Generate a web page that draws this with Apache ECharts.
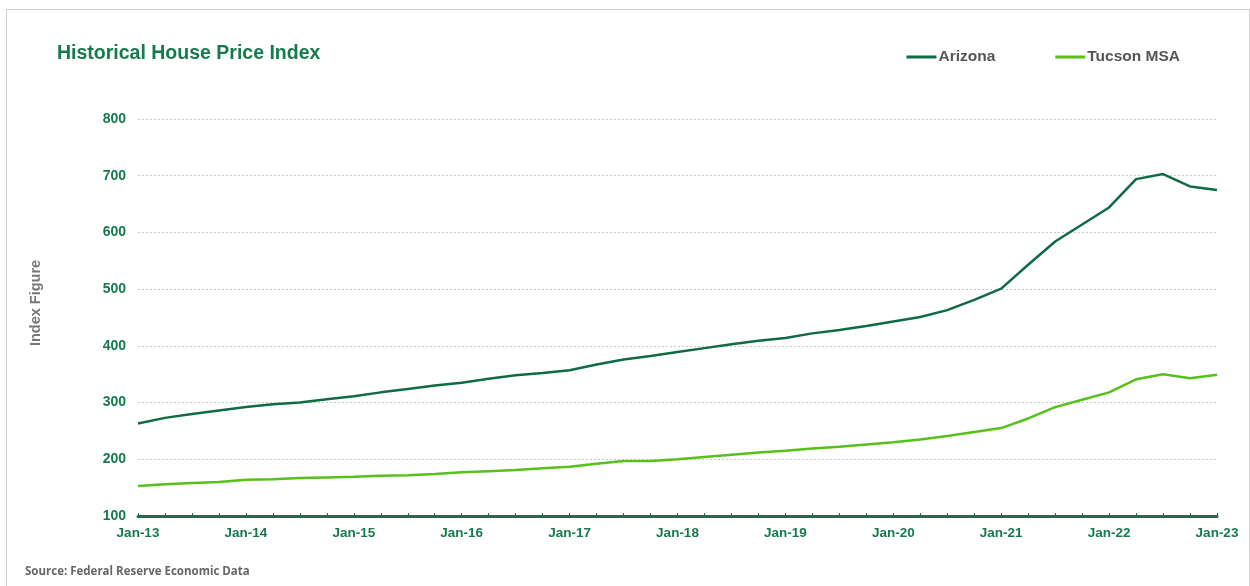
<!DOCTYPE html>
<html>
<head>
<meta charset="utf-8">
<script src="https://cdn.jsdelivr.net/npm/echarts@6/dist/echarts.min.js"></script>
<style>
  html, body { margin: 0; padding: 0; background: #fff; }
  #frame { position: absolute; left: 6px; top: 9px; width: 1244px; height: 590px; border: 1px solid #d0d0d0; box-sizing: border-box; }
  #chart { position: absolute; left: 0; top: 0; width: 1250px; height: 586px; }
</style>
</head>
<body>
<div id="frame"></div>
<div id="chart"></div>
<script>
// Quarterly periods, Jan-13 through Jan-23
const quarters = [
  'Jan-13','Apr-13','Jul-13','Oct-13','Jan-14','Apr-14','Jul-14','Oct-14',
  'Jan-15','Apr-15','Jul-15','Oct-15','Jan-16','Apr-16','Jul-16','Oct-16',
  'Jan-17','Apr-17','Jul-17','Oct-17','Jan-18','Apr-18','Jul-18','Oct-18',
  'Jan-19','Apr-19','Jul-19','Oct-19','Jan-20','Apr-20','Jul-20','Oct-20',
  'Jan-21','Apr-21','Jul-21','Oct-21','Jan-22','Apr-22','Jul-22','Oct-22',
  'Jan-23'
];

// House price index, Arizona
const arizona = [
  263, 273, 280, 286, 292, 297, 300, 306,
  311, 318, 324, 330, 335, 342, 348, 352,
  357, 367, 376, 382, 389, 396, 403, 409,
  414, 422, 428, 435, 443, 451, 463, 481,
  501, 543, 584, 614, 644, 694, 703, 681,
  675
];

// House price index, Tucson MSA
const tucson = [
  153, 156, 158, 160, 164, 165, 167, 168,
  169, 171, 172, 174, 177, 179, 181, 184,
  187, 192, 197, 197, 200, 204, 208, 212,
  215, 219, 222, 226, 230, 235, 241, 248,
  255, 272, 292, 305, 318, 341, 350, 343,
  349
];

const yTicks = { min: 100, max: 800, step: 100 };

const green = '#157a4c';
const font = 'Liberation Sans, Arial, sans-serif';
const chart = echarts.init(document.getElementById('chart'), null, { renderer: 'canvas' });

chart.setOption({
  backgroundColor: 'transparent',
  animation: false,
  title: {
    text: 'Historical House Price Index',
    left: 52, top: 39,
    textStyle: { fontFamily: font, fontSize: 19.5, fontWeight: 'bold', color: green }
  },
  legend: {
    top: 44, right: 65,
    itemWidth: 30, itemHeight: 3, itemGap: 60,
    icon: 'rect',
    textStyle: { fontFamily: font, fontSize: 15.5, fontWeight: 'bold', color: '#555', padding: [0, 0, 0, -3] },
    data: ['Arizona', 'Tucson MSA']
  },
  graphic: [
    {
      type: 'text', left: 25, top: 566,
      style: { text: 'Source: Federal Reserve Economic Data', fontFamily: 'Open Sans, Liberation Sans', fontSize: 11.5, fontWeight: 'bold', fill: '#666' }
    },
    {
      type: 'text', x: 36, y: 303, rotation: Math.PI / 2,
      style: { text: 'Index Figure', align: 'center', verticalAlign: 'middle', fontFamily: font, fontSize: 14.5, fontWeight: 'bold', fill: '#777' }
    }
  ],
  grid: { left: 138, right: 33, top: 119, bottom: 70, containLabel: false },
  xAxis: {
    type: 'category',
    data: quarters,
    boundaryGap: false,
    axisLine: { lineStyle: { color: '#1b6e47', width: 3 } },
    axisTick: { show: true, inside: true, length: 3, interval: 0, lineStyle: { color: '#1b6e47', width: 1 } },
    axisLabel: {
      interval: 3, margin: 10,
      fontFamily: font, fontSize: 13.5, fontWeight: 'bold', color: green
    },
    splitLine: { show: false }
  },
  yAxis: {
    type: 'value',
    min: yTicks.min, max: yTicks.max, interval: yTicks.step,
    axisLine: { show: false },
    axisTick: { show: false },
    axisLabel: { margin: 12, fontFamily: font, fontSize: 14, fontWeight: 'bold', color: green },
    splitLine: { lineStyle: { color: '#c8c8c8', type: [2, 2], width: 1 } }
  },
  series: [
    {
      name: 'Arizona', type: 'line', data: arizona,
      symbol: 'none', smooth: false,
      lineStyle: { color: '#0f6b45', width: 2.5 },
      itemStyle: { color: '#0f6b45' }
    },
    {
      name: 'Tucson MSA', type: 'line', data: tucson,
      symbol: 'none', smooth: false,
      lineStyle: { color: '#56c11a', width: 2.5 },
      itemStyle: { color: '#56c11a' }
    }
  ]
});
</script>
</body>
</html>
